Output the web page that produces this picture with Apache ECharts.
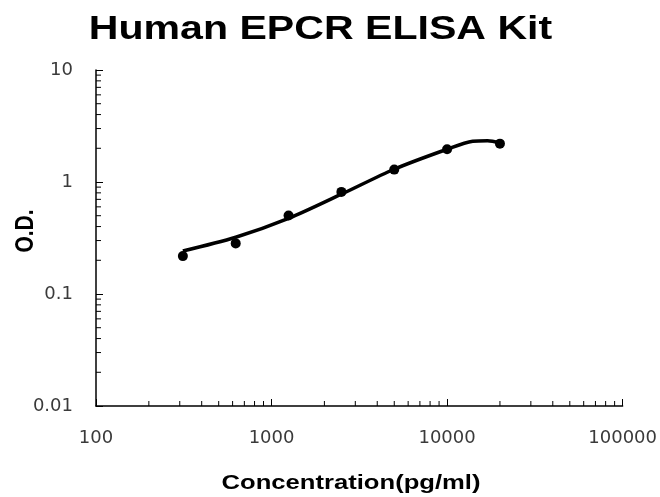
<!DOCTYPE html>
<html>
<head>
<meta charset="utf-8">
<script src="https://cdn.jsdelivr.net/npm/echarts@6/dist/echarts.min.js"></script>
<style>
  html, body { margin: 0; padding: 0; background: #fff; }
  #chart { width: 660px; height: 497px; }
</style>
</head>
<body>
<div id="chart"></div>
<script>
// standard points (pg/ml, O.D.)
const stdConc = [312.5, 625, 1250, 2500, 5000, 10000, 20000];
const stdOD = [0.218, 0.283, 0.503, 0.816, 1.29, 1.96, 2.20];

// fitted curve
const curveConc = [312.5, 625, 1250, 2500, 5000, 10000, 14000, 17000, 20000];
const curveOD = [0.242, 0.321, 0.473, 0.778, 1.30, 1.96, 2.31, 2.34, 2.24];

const xTickLabels = ['100', '1000', '10000', '100000'];
const yTickLabels = ['0.01', '0.1', '1', '10'];
const xDecades = [100, 1000, 10000];
const yDecades = [0.01, 0.1, 1];
const minorSteps = [2, 3, 4, 5, 6, 7, 8, 9];

const xMinor = [];
xDecades.forEach(d => minorSteps.forEach(s => xMinor.push([d * s, 0.01])));
const yMinor = [];
yDecades.forEach(d => minorSteps.forEach(s => yMinor.push([100, d * s])));

const chart = echarts.init(document.getElementById('chart'));

const boldFont = 'bold 33px "Liberation Sans", Arial, sans-serif';

const option = {
  animation: false,
  grid: { left: 96, right: 37, top: 70, bottom: 91, containLabel: false },
  graphic: [
    {
      type: 'text', x: 320.5, y: 30, scaleX: 1.245,
      style: { text: 'Human EPCR ELISA Kit', font: boldFont, fill: '#000',
        textAlign: 'center', textVerticalAlign: 'middle' }
    },
    {
      type: 'text', x: 351, y: 483, scaleX: 1.22,
      style: { text: 'Concentration(pg/ml)', font: 'bold 21px "Liberation Sans", Arial, sans-serif',
        fill: '#000', textAlign: 'center', textVerticalAlign: 'middle' }
    },
    {
      type: 'text', x: 26, y: 231, rotation: Math.PI / 2, scaleY: 1.22,
      style: { text: 'O.D.', font: 'bold 21px "Liberation Sans", Arial, sans-serif',
        fill: '#000', textAlign: 'center', textVerticalAlign: 'middle' }
    }
  ],
  xAxis: {
    type: 'log', logBase: 10, min: 100, max: 100000,
    axisLine: { lineStyle: { color: '#000', width: 1.5 } },
    axisTick: { inside: true, length: 7, lineStyle: { color: '#000', width: 1 } },
    splitLine: { show: false },
    axisLabel: {
      margin: 23, color: '#3a3a3a', fontSize: 18, fontFamily: '"DejaVu Sans", sans-serif',
      formatter: (v, i) => xTickLabels[i]
    }
  },
  yAxis: {
    type: 'log', logBase: 10, min: 0.01, max: 10,
    axisLine: { show: true, lineStyle: { color: '#000', width: 1.5 } },
    axisTick: { show: true, inside: true, length: 7, lineStyle: { color: '#000', width: 1 } },
    splitLine: { show: false },
    axisLabel: {
      margin: 23, color: '#3a3a3a', fontSize: 18, fontFamily: '"DejaVu Sans", sans-serif',
      formatter: (v, i) => yTickLabels[i]
    }
  },
  series: [
    {
      type: 'custom', silent: true, data: xMinor,
      renderItem: (params, api) => {
        const p = api.coord([api.value(0), api.value(1)]);
        return { type: 'line', shape: { x1: p[0], y1: p[1], x2: p[0], y2: p[1] - 5 },
          style: { stroke: '#000', lineWidth: 1 } };
      }
    },
    {
      type: 'custom', silent: true, data: yMinor,
      renderItem: (params, api) => {
        const p = api.coord([api.value(0), api.value(1)]);
        return { type: 'line', shape: { x1: p[0], y1: p[1], x2: p[0] + 5, y2: p[1] },
          style: { stroke: '#000', lineWidth: 1 } };
      }
    },
    {
      type: 'line', smooth: 0.3, showSymbol: false, silent: true,
      data: curveConc.map((c, i) => [c, curveOD[i]]),
      lineStyle: { color: '#000', width: 3.5 }
    },
    {
      type: 'scatter', symbolSize: 10, silent: true,
      data: stdConc.map((c, i) => [c, stdOD[i]]),
      itemStyle: { color: '#000', opacity: 1 }
    }
  ]
};

chart.setOption(option);
</script>
</body>
</html>
